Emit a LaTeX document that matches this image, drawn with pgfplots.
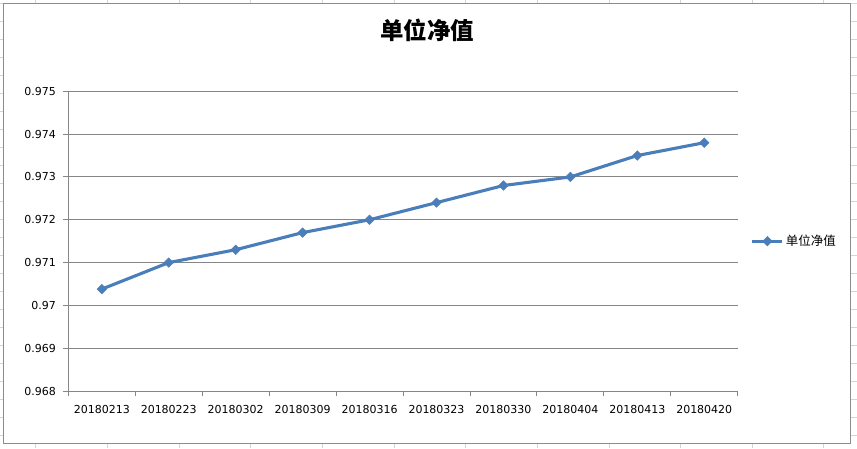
\documentclass[border=0pt]{standalone}
\usepackage{fontspec}
\setmainfont{DejaVu Sans}
\newfontfamily\cjk{Noto Sans CJK SC}
\usepackage{pgfplots}
\pgfplotsset{compat=1.18}

\definecolor{lineblue}{HTML}{4A7EBB}
\definecolor{axisgray}{HTML}{868686}
\definecolor{cellgray}{HTML}{D4D4D4}
\definecolor{framegray}{HTML}{8C8C8C}

\begin{document}
\begin{tikzpicture}
% spreadsheet behind the chart
\fill[white] (0pt,0pt) rectangle (857pt,448pt);
\foreach \x in {35.5,107.2,...,857} \draw[cellgray,line width=0.8pt] (\x pt,0pt) -- (\x pt,448pt);
\foreach \y in {445,427,...,0} \draw[cellgray,line width=0.8pt] (0pt,\y pt) -- (857pt,\y pt);
% chart area
\filldraw[fill=white,draw=framegray,line width=0.9pt] (3pt,5pt) rectangle (851pt,445pt);
\node[font=\cjk\bfseries\fontsize{23.5}{26}\selectfont] at (427pt,418pt) {单位净值};

\begin{axis}[
  at={(68pt,57pt)}, anchor=south west,
  scale only axis, width=670pt, height=300pt,
  xmin=-0.5, xmax=9.5,
  ymin=0.968, ymax=0.975,
  xtick={0,...,9},
  xticklabels={20180213,20180223,20180302,20180309,20180316,20180323,20180330,20180404,20180413,20180420},
  minor xtick={-0.5,0.5,...,9.5},
  ytick={0.968,0.969,0.970,0.971,0.972,0.973,0.974,0.975},
  yticklabels={0.968,0.969,0.97,0.971,0.972,0.973,0.974,0.975},
  axis x line*=bottom, axis y line*=left,
  axis line style={axisgray,line width=0.9pt,-},
  ymajorgrids=true, grid style={axisgray,line width=0.9pt},
  major x tick style={draw=none},
  minor x tick style={axisgray,line width=0.9pt},
  major y tick style={axisgray,line width=0.9pt},
  minor tick length=5pt, major tick length=5pt,
  tick align=outside,
  ticklabel style={font=\fontsize{11}{13}\selectfont, text=black},
  /pgf/number format/assume math mode=true,
  xticklabel style={yshift=-6pt},
  yticklabel style={xshift=-4pt},
  legend style={at={(1,0.5)}, anchor=west, xshift=13pt, draw=none, fill=none,
    font=\cjk\fontsize{12.5}{14}\selectfont, inner sep=0pt},
  legend cell align=left,
  legend image code/.code={
    \draw[#1, mark repeat=2, mark phase=2] plot coordinates {(0pt,0pt) (15pt,0pt) (30pt,0pt)};
  },
]
\addplot[color=lineblue, line width=3.1pt, mark=square*, mark size=3.4pt,
  mark options={fill=lineblue, draw=lineblue, line width=0.4pt, rotate=45}]
coordinates {
(0,0.97038)
(1,0.97100)
(2,0.97130)
(3,0.97170)
(4,0.97200)
(5,0.97240)
(6,0.97280)
(7,0.97300)
(8,0.97350)
(9,0.97380)
};
\legend{单位净值}
\end{axis}
\end{tikzpicture}
\end{document}
